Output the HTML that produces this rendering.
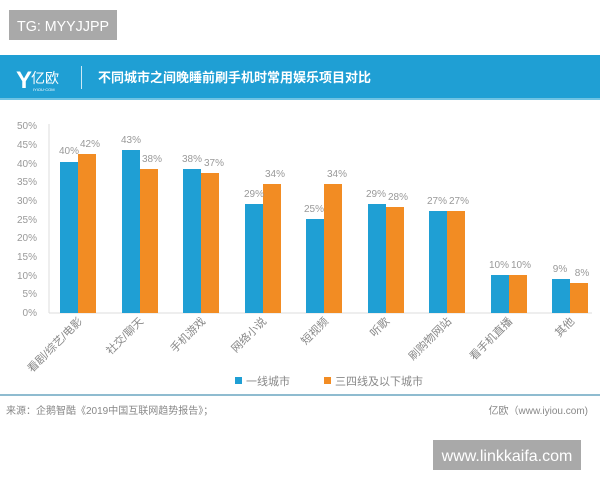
<!DOCTYPE html>
<html><head><meta charset="utf-8"><style>
body{margin:0;width:600px;height:480px;background:#fff;overflow:hidden}
svg{display:block}
text{font-family:"Liberation Sans","Noto Sans CJK SC",sans-serif}
</style></head><body>
<svg width="600" height="480" xmlns="http://www.w3.org/2000/svg">
<rect x="9" y="10" width="108" height="30" fill="#a9a9a9"/>
<text x="17" y="31" font-size="15" fill="#fff" textLength="92" lengthAdjust="spacingAndGlyphs">TG: MYYJJPP</text>
<rect x="0" y="55" width="600" height="45" fill="#1f9fd4"/>
<rect x="0" y="98" width="600" height="2" fill="#6fc3e3"/>
<text x="16" y="88" font-size="24" fill="#fff" font-weight="bold">Y</text>
<text x="31" y="83" font-size="14" fill="#fff">亿欧</text>
<text x="33" y="91" font-size="4" fill="#fff">IYIOU·COM</text>
<rect x="81" y="66" width="1" height="23" fill="#cde9f5"/>
<text x="98" y="82" font-size="13" font-weight="bold" fill="#fff">不同城市之间晚睡前刷手机时常用娱乐项目对比</text>
<g font-size="10" fill="#999" text-anchor="end">
<text x="37" y="316">0%</text><text x="37" y="297">5%</text><text x="37" y="279">10%</text><text x="37" y="260">15%</text><text x="37" y="241">20%</text><text x="37" y="223">25%</text><text x="37" y="204">30%</text><text x="37" y="185">35%</text><text x="37" y="167">40%</text><text x="37" y="148">45%</text><text x="37" y="129">50%</text>
</g>
<line x1="49" y1="124" x2="49" y2="313" stroke="#ddd"/>
<line x1="49" y1="313" x2="592" y2="313" stroke="#ddd"/>
<g font-size="10" fill="#999" text-anchor="middle">
<rect x="60" y="162" width="18" height="151" fill="#1f9fd4"/><rect x="78" y="154" width="18" height="159" fill="#f28c23"/>
<text x="69" y="154">40%</text><text x="90" y="147">42%</text>
<rect x="122" y="150" width="18" height="163" fill="#1f9fd4"/><rect x="140" y="169" width="18" height="144" fill="#f28c23"/>
<text x="131" y="143">43%</text><text x="152" y="162">38%</text>
<rect x="183" y="169" width="18" height="144" fill="#1f9fd4"/><rect x="201" y="173" width="18" height="140" fill="#f28c23"/>
<text x="192" y="162">38%</text><text x="214" y="166">37%</text>
<rect x="245" y="204" width="18" height="109" fill="#1f9fd4"/><rect x="263" y="184" width="18" height="129" fill="#f28c23"/>
<text x="254" y="197">29%</text><text x="275" y="177">34%</text>
<rect x="306" y="219" width="18" height="94" fill="#1f9fd4"/><rect x="324" y="184" width="18" height="129" fill="#f28c23"/>
<text x="314" y="212">25%</text><text x="337" y="177">34%</text>
<rect x="368" y="204" width="18" height="109" fill="#1f9fd4"/><rect x="386" y="207" width="18" height="106" fill="#f28c23"/>
<text x="376" y="197">29%</text><text x="398" y="200">28%</text>
<rect x="429" y="211" width="18" height="102" fill="#1f9fd4"/><rect x="447" y="211" width="18" height="102" fill="#f28c23"/>
<text x="437" y="204">27%</text><text x="459" y="204">27%</text>
<rect x="491" y="275" width="18" height="38" fill="#1f9fd4"/><rect x="509" y="275" width="18" height="38" fill="#f28c23"/>
<text x="499" y="268">10%</text><text x="521" y="268">10%</text>
<rect x="552" y="279" width="18" height="34" fill="#1f9fd4"/><rect x="570" y="283" width="18" height="30" fill="#f28c23"/>
<text x="560" y="272">9%</text><text x="582" y="276">8%</text>
</g>
<g font-size="11" fill="#888" text-anchor="end">
<text transform="translate(83,322) rotate(-45)">看剧/综艺/电影</text>
<text transform="translate(144,322) rotate(-45)">社交/聊天</text>
<text transform="translate(206,322) rotate(-45)">手机游戏</text>
<text transform="translate(267,322) rotate(-45)">网络小说</text>
<text transform="translate(329,322) rotate(-45)">短视频</text>
<text transform="translate(390,322) rotate(-45)">听歌</text>
<text transform="translate(452,322) rotate(-45)">刷购物网站</text>
<text transform="translate(513,322) rotate(-45)">看手机直播</text>
<text transform="translate(575,322) rotate(-45)">其他</text>
</g>
<rect x="235" y="377" width="7" height="7" fill="#1f9fd4"/>
<text x="246" y="385" font-size="11" fill="#888">一线城市</text>
<rect x="324" y="377" width="7" height="7" fill="#f28c23"/>
<text x="335" y="385" font-size="11" fill="#888">三四线及以下城市</text>
<rect x="0" y="394" width="600" height="2" fill="#8fbcd0"/>
<text x="6" y="414" font-size="10" fill="#888">来源：企鹅智酷《2019中国互联网趋势报告》；</text>
<text x="588" y="414" font-size="10" fill="#888" text-anchor="end">亿欧（www.iyiou.com)</text>
<rect x="433" y="440" width="148" height="30" fill="#a9a9a9"/>
<text x="507" y="461" font-size="16" fill="#fff" text-anchor="middle">www.linkkaifa.com</text>
</svg>
</body></html>
